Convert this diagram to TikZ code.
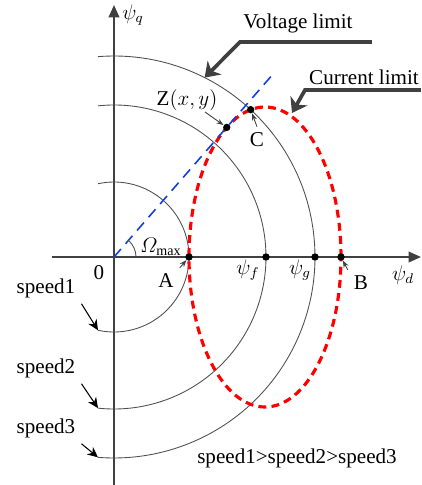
\documentclass[tikz,border=0pt]{standalone}
\usepackage{amsmath}
\usepackage{fontspec}
\setmainfont{Liberation Serif}
\usetikzlibrary{arrows.meta,calc}
\definecolor{axisgray}{HTML}{404040}
\definecolor{arcgray}{HTML}{505050}
\definecolor{limitred}{HTML}{FF0000}
\definecolor{tanblue}{HTML}{1040D8}
\tikzset{
    every node/.style={font=\fontsize{12}{14}\selectfont},
    axisline/.style={draw=axisgray,line width=1.1pt,-{Triangle[length=7pt,width=6pt]}},
    speedarc/.style={draw=arcgray,line width=0.5pt},
    curlimit/.style={draw=limitred,line width=1.8pt,dash pattern=on 4.5pt off 3pt},
    tanline/.style={draw=tanblue,line width=0.9pt,dash pattern=on 6pt off 4pt},
    ptdot/.style={circle,fill=black,inner sep=0pt,minimum size=4.2pt},
    callout/.style={draw=axisgray,line width=2.1pt,-{Stealth[length=8pt,width=11pt,inset=2.5pt]}},
    pointer/.style={draw=axisgray,line width=0.5pt,-{Stealth[length=4pt,width=3pt]}},
    speedptr/.style={draw=black,line width=0.6pt,-{Stealth[length=6pt,width=5.5pt]}}
}
\begin{document}
\begin{tikzpicture}[x=0.02cm,y=0.02cm]
\useasboundingbox (-114,-228) rectangle (308,257);
\coordinate (O) at (0,0);
\coordinate (E) at (151,0);
% axes
\coordinate (dleft) at (-62,0);
\coordinate (dtip) at (307,0);
\coordinate (qbot) at (0,-228);
\coordinate (qtip) at (0,252);
\draw[axisline] (dleft) -- (dtip);
\draw[axisline] (qbot) -- (qtip);
% voltage limit circles
\foreach \r/\i in {75/1,152/2,201/3}{
    \pgfmathsetmacro{\a}{90+asin(16/\r)}
    \draw[speedarc] (\a:\r) arc[start angle=\a,end angle=-\a,radius=\r];
    \coordinate (low\i) at (-\a:\r);
}
% current limit
\draw[curlimit] (E) ellipse[x radius=76,y radius=150];
% max angle line
\coordinate (tanend) at (49:245);
\draw[tanline] (O) -- (tanend);
\draw[speedarc] (22,0) arc[start angle=0,end angle=49,radius=22];
\node (lblOm) at (47,10) {$\varOmega_{\mathrm{max}}$};
% points
\node[ptdot] (A) at (75,0) {};
\node[ptdot] (F) at (152,0) {};
\node[ptdot] (G) at (201,0) {};
\node[ptdot] (B) at (227,0) {};
\node[ptdot] (Z) at (112.8,129.6) {};
\node[ptdot] (C) at (47.15:201) {};
% labels
\node (lblO) at (-15,-16) {0};
\node (lblA) at (52,-24) {A};
\node (lblB) at (247,-26) {B};
\node (lblF) at (134,-13) {$\psi_f$};
\node (lblG) at (186,-13) {$\psi_g$};
\node (lblD) at (289,-18) {$\psi_d$};
\node (lblQ) at (19,242) {$\psi_q$};
\node (lblZ) at (73,157) {Z$(x, y)$};
\node (lblC) at (143,117) {C};
\draw[pointer] (lblA.north east) -- (A);
\draw[pointer] (lblB.north west) -- (B);
\coordinate (Zfrom) at (91,145);
\draw[pointer] (Zfrom) -- (Z);
\draw[pointer] (lblC.north) -- (C);
% callouts
\node (lblV) at (184,234) {Voltage limit};
\coordinate (vstart) at (258,215);
\coordinate (vbend) at (126,215);
\coordinate (vtip) at (63.2:201);
\draw[callout] (vstart) -- (vbend) -- (vtip);
\node (lblI) at (250,180) {Current limit};
\coordinate (istart) at (307,167);
\coordinate (ibend) at (191,167);
\coordinate (itip) at (178,144);
\draw[callout] (istart) -- (ibend) -- (itip);
% speeds
\foreach \i/\y in {1/-31,2/-111,3/-171}{
    \node (speed\i) at (-68,\y) {speed\i};
    \draw[speedptr] (speed\i.south east) -- (low\i);
}
\node (order) at (183,-201) {speed1>speed2>speed3};
\end{tikzpicture}
\end{document}
